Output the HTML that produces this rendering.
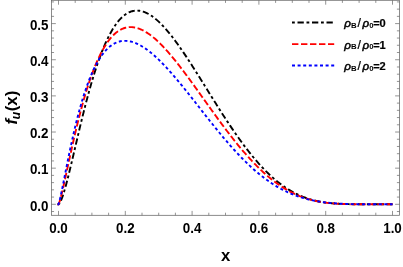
<!DOCTYPE html>
<html><head><meta charset="utf-8"><title>plot</title>
<style>
html,body{margin:0;padding:0;background:#fff;}
svg{display:block;will-change:transform;}
text{font-family:"Liberation Sans",Arial,Helvetica,sans-serif;font-weight:bold;fill:#000;}
.tl{font-size:13.4px;}
.lg{font-size:11.1px;}
.rh{font-style:italic;font-weight:normal;stroke:#000;stroke-width:0.5px;font-size:11.6px;}
.sl{font-weight:normal;font-size:12.3px;stroke:#000;stroke-width:0.25px;}
.eq{stroke:#000;stroke-width:0.2px;}
.ax{font-size:16.7px;}
</style></head><body>
<svg width="403" height="267" viewBox="0 0 403 267">
<rect x="0" y="0" width="403" height="267" fill="#fff"/>
<path d="M57.50,204.30 L58.50,204.30 L59.34,203.62 L60.17,202.28 L61.01,200.53 L61.85,198.45 L62.69,196.11 L63.52,193.55 L64.36,190.81 L65.20,187.91 L66.03,184.88 L66.87,181.73 L67.71,178.49 L68.55,175.17 L69.38,171.78 L70.22,168.34 L71.06,164.85 L71.89,161.33 L72.73,157.78 L73.57,154.21 L74.40,150.64 L75.24,147.06 L76.08,143.48 L76.92,139.91 L77.75,136.36 L78.59,132.82 L79.43,129.30 L80.26,125.81 L81.10,122.35 L81.94,118.92 L82.78,115.53 L83.61,112.18 L84.45,108.87 L85.29,105.60 L86.12,102.37 L86.96,99.20 L87.80,96.07 L88.64,92.99 L89.47,89.97 L90.31,87.00 L91.15,84.08 L91.98,81.22 L92.82,78.41 L93.66,75.66 L94.49,72.97 L95.33,70.34 L96.17,67.77 L97.01,65.26 L97.84,62.80 L98.68,60.41 L99.52,58.07 L100.35,55.80 L101.19,53.59 L102.03,51.43 L102.87,49.34 L103.70,47.31 L104.54,45.33 L105.38,43.42 L106.21,41.57 L107.05,39.77 L107.89,38.04 L108.73,36.36 L109.56,34.74 L110.40,33.18 L111.24,31.68 L112.07,30.23 L112.91,28.84 L113.75,27.51 L114.59,26.23 L115.42,25.01 L116.26,23.84 L117.10,22.73 L117.93,21.67 L118.77,20.66 L119.61,19.70 L120.44,18.80 L121.28,17.95 L122.12,17.15 L122.96,16.39 L123.79,15.69 L124.63,15.03 L125.47,14.43 L126.30,13.87 L127.14,13.35 L127.98,12.89 L128.82,12.47 L129.65,12.09 L130.49,11.75 L131.33,11.46 L132.16,11.22 L133.00,11.01 L133.84,10.85 L134.68,10.72 L135.51,10.64 L136.35,10.59 L137.19,10.59 L138.02,10.62 L138.86,10.69 L139.70,10.79 L140.54,10.94 L141.37,11.11 L142.21,11.32 L143.05,11.57 L143.88,11.85 L144.72,12.16 L145.56,12.51 L146.39,12.88 L147.23,13.29 L148.07,13.73 L148.91,14.19 L149.74,14.69 L150.58,15.21 L151.42,15.77 L152.25,16.34 L153.09,16.95 L153.93,17.58 L154.77,18.24 L155.60,18.93 L156.44,19.63 L157.28,20.37 L158.11,21.12 L158.95,21.90 L159.79,22.70 L160.63,23.52 L161.46,24.36 L162.30,25.23 L163.14,26.11 L163.97,27.01 L164.81,27.94 L165.65,28.88 L166.48,29.84 L167.32,30.82 L168.16,31.81 L169.00,32.82 L169.83,33.85 L170.67,34.89 L171.51,35.95 L172.34,37.03 L173.18,38.11 L174.02,39.22 L174.86,40.33 L175.69,41.46 L176.53,42.60 L177.37,43.75 L178.20,44.92 L179.04,46.10 L179.88,47.28 L180.72,48.48 L181.55,49.69 L182.39,50.91 L183.23,52.13 L184.06,53.37 L184.90,54.62 L185.74,55.87 L186.58,57.13 L187.41,58.40 L188.25,59.67 L189.09,60.96 L189.92,62.24 L190.76,63.54 L191.60,64.84 L192.43,66.15 L193.27,67.46 L194.11,68.77 L194.95,70.09 L195.78,71.42 L196.62,72.74 L197.46,74.08 L198.29,75.41 L199.13,76.75 L199.97,78.09 L200.81,79.43 L201.64,80.77 L202.48,82.12 L203.32,83.46 L204.15,84.81 L204.99,86.16 L205.83,87.51 L206.67,88.86 L207.50,90.20 L208.34,91.55 L209.18,92.90 L210.01,94.25 L210.85,95.59 L211.69,96.94 L212.53,98.28 L213.36,99.62 L214.20,100.96 L215.04,102.29 L215.87,103.62 L216.71,104.95 L217.55,106.28 L218.38,107.60 L219.22,108.92 L220.06,110.24 L220.90,111.55 L221.73,112.86 L222.57,114.16 L223.41,115.46 L224.24,116.75 L225.08,118.04 L225.92,119.32 L226.76,120.60 L227.59,121.87 L228.43,123.14 L229.27,124.40 L230.10,125.65 L230.94,126.90 L231.78,128.14 L232.62,129.37 L233.45,130.60 L234.29,131.82 L235.13,133.03 L235.96,134.23 L236.80,135.43 L237.64,136.61 L238.47,137.79 L239.31,138.97 L240.15,140.13 L240.99,141.28 L241.82,142.43 L242.66,143.57 L243.50,144.70 L244.33,145.82 L245.17,146.93 L246.01,148.03 L246.85,149.12 L247.68,150.20 L248.52,151.27 L249.36,152.33 L250.19,153.38 L251.03,154.43 L251.87,155.46 L252.71,156.48 L253.54,157.49 L254.38,158.49 L255.22,159.48 L256.05,160.46 L256.89,161.43 L257.73,162.38 L258.57,163.33 L259.40,164.26 L260.24,165.19 L261.08,166.10 L261.91,167.00 L262.75,167.89 L263.59,168.77 L264.42,169.64 L265.26,170.49 L266.10,171.33 L266.94,172.17 L267.77,172.99 L268.61,173.79 L269.45,174.59 L270.28,175.38 L271.12,176.15 L271.96,176.91 L272.80,177.66 L273.63,178.39 L274.47,179.12 L275.31,179.83 L276.14,180.53 L276.98,181.22 L277.82,181.90 L278.66,182.56 L279.49,183.22 L280.33,183.86 L281.17,184.49 L282.00,185.11 L282.84,185.71 L283.68,186.30 L284.52,186.89 L285.35,187.46 L286.19,188.01 L287.03,188.56 L287.86,189.09 L288.70,189.62 L289.54,190.13 L290.37,190.63 L291.21,191.12 L292.05,191.59 L292.89,192.06 L293.72,192.51 L294.56,192.96 L295.40,193.39 L296.23,193.81 L297.07,194.22 L297.91,194.62 L298.75,195.01 L299.58,195.39 L300.42,195.76 L301.26,196.11 L302.09,196.46 L302.93,196.80 L303.77,197.12 L304.61,197.44 L305.44,197.75 L306.28,198.05 L307.12,198.34 L307.95,198.61 L308.79,198.88 L309.63,199.15 L310.46,199.40 L311.30,199.64 L312.14,199.87 L312.98,200.10 L313.81,200.32 L314.65,200.53 L315.49,200.73 L316.32,200.92 L317.16,201.11 L318.00,201.29 L318.84,201.46 L319.67,201.62 L320.51,201.78 L321.35,201.93 L322.18,202.07 L323.02,202.21 L323.86,202.34 L324.70,202.47 L325.53,202.58 L326.37,202.70 L327.21,202.80 L328.04,202.91 L328.88,203.00 L329.72,203.09 L330.56,203.18 L331.39,203.26 L332.23,203.34 L333.07,203.41 L333.90,203.48 L334.74,203.54 L335.58,203.60 L336.41,203.66 L337.25,203.71 L338.09,203.76 L338.93,203.81 L339.76,203.85 L340.60,203.89 L341.44,203.93 L342.27,203.96 L343.11,204.00 L343.95,204.03 L344.79,204.05 L345.62,204.08 L346.46,204.10 L347.30,204.12 L348.13,204.14 L348.97,204.16 L349.81,204.18 L350.65,204.19 L351.48,204.20 L352.32,204.21 L353.16,204.23 L353.99,204.23 L354.83,204.24 L355.67,204.25 L356.51,204.26 L357.34,204.26 L358.18,204.27 L359.02,204.27 L359.85,204.28 L360.69,204.28 L361.53,204.28 L362.36,204.29 L363.20,204.29 L364.04,204.29 L364.88,204.29 L365.71,204.29 L366.55,204.30 L367.39,204.30 L368.22,204.30 L369.06,204.30 L369.90,204.30 L370.74,204.30 L371.57,204.30 L372.41,204.30 L373.25,204.30 L374.08,204.30 L374.92,204.30 L375.76,204.30 L376.60,204.30 L377.43,204.30 L378.27,204.30 L379.11,204.30 L379.94,204.30 L380.78,204.30 L381.62,204.30 L382.45,204.30 L383.29,204.30 L384.13,204.30 L384.97,204.30 L385.80,204.30 L386.64,204.30 L387.48,204.30 L388.31,204.30 L389.15,204.30 L389.99,204.30 L390.83,204.30 L391.66,204.30 L392.50,204.30" fill="none" stroke="#000" stroke-width="1.9" stroke-dasharray="2.8 2.7 6.3 2.7"/>
<path d="M57.50,204.30 L58.50,204.30 L59.34,202.39 L60.17,199.66 L61.01,196.54 L61.85,193.17 L62.69,189.64 L63.52,185.98 L64.36,182.24 L65.20,178.44 L66.03,174.60 L66.87,170.74 L67.71,166.87 L68.55,163.01 L69.38,159.15 L70.22,155.32 L71.06,151.52 L71.89,147.74 L72.73,144.01 L73.57,140.32 L74.40,136.67 L75.24,133.08 L76.08,129.54 L76.92,126.05 L77.75,122.62 L78.59,119.25 L79.43,115.95 L80.26,112.70 L81.10,109.52 L81.94,106.40 L82.78,103.34 L83.61,100.35 L84.45,97.43 L85.29,94.57 L86.12,91.78 L86.96,89.06 L87.80,86.40 L88.64,83.81 L89.47,81.29 L90.31,78.83 L91.15,76.44 L91.98,74.11 L92.82,71.85 L93.66,69.65 L94.49,67.52 L95.33,65.45 L96.17,63.45 L97.01,61.50 L97.84,59.62 L98.68,57.80 L99.52,56.04 L100.35,54.35 L101.19,52.71 L102.03,51.13 L102.87,49.61 L103.70,48.14 L104.54,46.73 L105.38,45.38 L106.21,44.08 L107.05,42.84 L107.89,41.65 L108.73,40.52 L109.56,39.43 L110.40,38.40 L111.24,37.42 L112.07,36.49 L112.91,35.60 L113.75,34.77 L114.59,33.98 L115.42,33.24 L116.26,32.55 L117.10,31.90 L117.93,31.29 L118.77,30.73 L119.61,30.22 L120.44,29.74 L121.28,29.31 L122.12,28.91 L122.96,28.56 L123.79,28.25 L124.63,27.98 L125.47,27.74 L126.30,27.54 L127.14,27.38 L127.98,27.25 L128.82,27.16 L129.65,27.11 L130.49,27.09 L131.33,27.10 L132.16,27.14 L133.00,27.22 L133.84,27.33 L134.68,27.47 L135.51,27.64 L136.35,27.84 L137.19,28.07 L138.02,28.32 L138.86,28.61 L139.70,28.92 L140.54,29.26 L141.37,29.62 L142.21,30.01 L143.05,30.43 L143.88,30.87 L144.72,31.33 L145.56,31.82 L146.39,32.33 L147.23,32.87 L148.07,33.42 L148.91,34.00 L149.74,34.60 L150.58,35.22 L151.42,35.85 L152.25,36.51 L153.09,37.19 L153.93,37.89 L154.77,38.60 L155.60,39.33 L156.44,40.08 L157.28,40.85 L158.11,41.63 L158.95,42.43 L159.79,43.24 L160.63,44.07 L161.46,44.92 L162.30,45.77 L163.14,46.65 L163.97,47.53 L164.81,48.43 L165.65,49.34 L166.48,50.27 L167.32,51.21 L168.16,52.16 L169.00,53.12 L169.83,54.09 L170.67,55.07 L171.51,56.06 L172.34,57.06 L173.18,58.08 L174.02,59.10 L174.86,60.13 L175.69,61.17 L176.53,62.22 L177.37,63.27 L178.20,64.34 L179.04,65.41 L179.88,66.49 L180.72,67.57 L181.55,68.67 L182.39,69.76 L183.23,70.87 L184.06,71.98 L184.90,73.09 L185.74,74.22 L186.58,75.34 L187.41,76.47 L188.25,77.61 L189.09,78.75 L189.92,79.89 L190.76,81.04 L191.60,82.19 L192.43,83.34 L193.27,84.50 L194.11,85.66 L194.95,86.82 L195.78,87.98 L196.62,89.15 L197.46,90.32 L198.29,91.49 L199.13,92.66 L199.97,93.83 L200.81,95.00 L201.64,96.18 L202.48,97.35 L203.32,98.52 L204.15,99.70 L204.99,100.87 L205.83,102.04 L206.67,103.22 L207.50,104.39 L208.34,105.56 L209.18,106.73 L210.01,107.90 L210.85,109.07 L211.69,110.23 L212.53,111.39 L213.36,112.55 L214.20,113.71 L215.04,114.87 L215.87,116.02 L216.71,117.17 L217.55,118.32 L218.38,119.47 L219.22,120.61 L220.06,121.74 L220.90,122.88 L221.73,124.01 L222.57,125.13 L223.41,126.26 L224.24,127.37 L225.08,128.49 L225.92,129.59 L226.76,130.70 L227.59,131.80 L228.43,132.89 L229.27,133.98 L230.10,135.06 L230.94,136.14 L231.78,137.21 L232.62,138.27 L233.45,139.33 L234.29,140.39 L235.13,141.43 L235.96,142.47 L236.80,143.51 L237.64,144.53 L238.47,145.56 L239.31,146.57 L240.15,147.58 L240.99,148.57 L241.82,149.57 L242.66,150.55 L243.50,151.53 L244.33,152.50 L245.17,153.46 L246.01,154.41 L246.85,155.36 L247.68,156.30 L248.52,157.23 L249.36,158.15 L250.19,159.06 L251.03,159.97 L251.87,160.86 L252.71,161.75 L253.54,162.63 L254.38,163.50 L255.22,164.36 L256.05,165.21 L256.89,166.06 L257.73,166.89 L258.57,167.72 L259.40,168.53 L260.24,169.34 L261.08,170.13 L261.91,170.92 L262.75,171.70 L263.59,172.47 L264.42,173.22 L265.26,173.97 L266.10,174.71 L266.94,175.44 L267.77,176.16 L268.61,176.87 L269.45,177.57 L270.28,178.26 L271.12,178.94 L271.96,179.61 L272.80,180.26 L273.63,180.91 L274.47,181.55 L275.31,182.18 L276.14,182.80 L276.98,183.41 L277.82,184.01 L278.66,184.59 L279.49,185.17 L280.33,185.74 L281.17,186.30 L282.00,186.84 L282.84,187.38 L283.68,187.91 L284.52,188.42 L285.35,188.93 L286.19,189.43 L287.03,189.91 L287.86,190.39 L288.70,190.86 L289.54,191.31 L290.37,191.76 L291.21,192.20 L292.05,192.62 L292.89,193.04 L293.72,193.45 L294.56,193.85 L295.40,194.24 L296.23,194.61 L297.07,194.98 L297.91,195.34 L298.75,195.69 L299.58,196.04 L300.42,196.37 L301.26,196.69 L302.09,197.01 L302.93,197.31 L303.77,197.61 L304.61,197.90 L305.44,198.18 L306.28,198.45 L307.12,198.71 L307.95,198.97 L308.79,199.21 L309.63,199.45 L310.46,199.68 L311.30,199.91 L312.14,200.12 L312.98,200.33 L313.81,200.53 L314.65,200.72 L315.49,200.91 L316.32,201.09 L317.16,201.26 L318.00,201.43 L318.84,201.58 L319.67,201.74 L320.51,201.88 L321.35,202.02 L322.18,202.16 L323.02,202.29 L323.86,202.41 L324.70,202.53 L325.53,202.64 L326.37,202.74 L327.21,202.84 L328.04,202.94 L328.88,203.03 L329.72,203.12 L330.56,203.20 L331.39,203.28 L332.23,203.35 L333.07,203.42 L333.90,203.49 L334.74,203.55 L335.58,203.61 L336.41,203.66 L337.25,203.71 L338.09,203.76 L338.93,203.81 L339.76,203.85 L340.60,203.89 L341.44,203.93 L342.27,203.96 L343.11,203.99 L343.95,204.02 L344.79,204.05 L345.62,204.07 L346.46,204.09 L347.30,204.12 L348.13,204.14 L348.97,204.15 L349.81,204.17 L350.65,204.18 L351.48,204.20 L352.32,204.21 L353.16,204.22 L353.99,204.23 L354.83,204.24 L355.67,204.25 L356.51,204.25 L357.34,204.26 L358.18,204.27 L359.02,204.27 L359.85,204.28 L360.69,204.28 L361.53,204.28 L362.36,204.29 L363.20,204.29 L364.04,204.29 L364.88,204.29 L365.71,204.29 L366.55,204.29 L367.39,204.30 L368.22,204.30 L369.06,204.30 L369.90,204.30 L370.74,204.30 L371.57,204.30 L372.41,204.30 L373.25,204.30 L374.08,204.30 L374.92,204.30 L375.76,204.30 L376.60,204.30 L377.43,204.30 L378.27,204.30 L379.11,204.30 L379.94,204.30 L380.78,204.30 L381.62,204.30 L382.45,204.30 L383.29,204.30 L384.13,204.30 L384.97,204.30 L385.80,204.30 L386.64,204.30 L387.48,204.30 L388.31,204.30 L389.15,204.30 L389.99,204.30 L390.83,204.30 L391.66,204.30 L392.50,204.30" fill="none" stroke="#f00" stroke-width="1.9" stroke-dasharray="6.4 2.6"/>
<path d="M57.50,204.30 L58.50,204.30 L59.34,201.71 L60.17,198.24 L61.01,194.43 L61.85,190.41 L62.69,186.27 L63.52,182.07 L64.36,177.83 L65.20,173.59 L66.03,169.36 L66.87,165.16 L67.71,161.01 L68.55,156.90 L69.38,152.85 L70.22,148.86 L71.06,144.95 L71.89,141.10 L72.73,137.34 L73.57,133.65 L74.40,130.04 L75.24,126.51 L76.08,123.07 L76.92,119.71 L77.75,116.43 L78.59,113.24 L79.43,110.13 L80.26,107.11 L81.10,104.17 L81.94,101.31 L82.78,98.54 L83.61,95.84 L84.45,93.23 L85.29,90.70 L86.12,88.24 L86.96,85.86 L87.80,83.56 L88.64,81.34 L89.47,79.19 L90.31,77.11 L91.15,75.10 L91.98,73.17 L92.82,71.31 L93.66,69.51 L94.49,67.78 L95.33,66.12 L96.17,64.52 L97.01,62.98 L97.84,61.51 L98.68,60.10 L99.52,58.75 L100.35,57.45 L101.19,56.22 L102.03,55.04 L102.87,53.92 L103.70,52.85 L104.54,51.83 L105.38,50.87 L106.21,49.96 L107.05,49.09 L107.89,48.28 L108.73,47.51 L109.56,46.79 L110.40,46.12 L111.24,45.49 L112.07,44.91 L112.91,44.37 L113.75,43.87 L114.59,43.41 L115.42,42.99 L116.26,42.62 L117.10,42.28 L117.93,41.98 L118.77,41.71 L119.61,41.48 L120.44,41.29 L121.28,41.13 L122.12,41.01 L122.96,40.92 L123.79,40.86 L124.63,40.83 L125.47,40.83 L126.30,40.87 L127.14,40.93 L127.98,41.02 L128.82,41.14 L129.65,41.29 L130.49,41.47 L131.33,41.67 L132.16,41.90 L133.00,42.15 L133.84,42.43 L134.68,42.74 L135.51,43.06 L136.35,43.41 L137.19,43.79 L138.02,44.18 L138.86,44.60 L139.70,45.03 L140.54,45.49 L141.37,45.97 L142.21,46.47 L143.05,46.98 L143.88,47.52 L144.72,48.07 L145.56,48.65 L146.39,49.24 L147.23,49.84 L148.07,50.47 L148.91,51.11 L149.74,51.76 L150.58,52.43 L151.42,53.12 L152.25,53.82 L153.09,54.53 L153.93,55.26 L154.77,56.01 L155.60,56.76 L156.44,57.53 L157.28,58.31 L158.11,59.11 L158.95,59.92 L159.79,60.73 L160.63,61.56 L161.46,62.40 L162.30,63.25 L163.14,64.11 L163.97,64.99 L164.81,65.87 L165.65,66.76 L166.48,67.66 L167.32,68.57 L168.16,69.49 L169.00,70.41 L169.83,71.35 L170.67,72.29 L171.51,73.24 L172.34,74.20 L173.18,75.16 L174.02,76.13 L174.86,77.11 L175.69,78.09 L176.53,79.08 L177.37,80.08 L178.20,81.08 L179.04,82.09 L179.88,83.10 L180.72,84.11 L181.55,85.14 L182.39,86.16 L183.23,87.19 L184.06,88.23 L184.90,89.26 L185.74,90.30 L186.58,91.35 L187.41,92.40 L188.25,93.45 L189.09,94.50 L189.92,95.55 L190.76,96.61 L191.60,97.67 L192.43,98.73 L193.27,99.80 L194.11,100.86 L194.95,101.93 L195.78,102.99 L196.62,104.06 L197.46,105.13 L198.29,106.20 L199.13,107.26 L199.97,108.33 L200.81,109.40 L201.64,110.47 L202.48,111.54 L203.32,112.60 L204.15,113.67 L204.99,114.73 L205.83,115.80 L206.67,116.86 L207.50,117.92 L208.34,118.98 L209.18,120.03 L210.01,121.09 L210.85,122.14 L211.69,123.19 L212.53,124.23 L213.36,125.28 L214.20,126.32 L215.04,127.36 L215.87,128.39 L216.71,129.42 L217.55,130.45 L218.38,131.47 L219.22,132.49 L220.06,133.50 L220.90,134.51 L221.73,135.52 L222.57,136.52 L223.41,137.52 L224.24,138.51 L225.08,139.50 L225.92,140.48 L226.76,141.46 L227.59,142.43 L228.43,143.39 L229.27,144.35 L230.10,145.31 L230.94,146.26 L231.78,147.20 L232.62,148.14 L233.45,149.07 L234.29,149.99 L235.13,150.91 L235.96,151.82 L236.80,152.72 L237.64,153.62 L238.47,154.50 L239.31,155.39 L240.15,156.26 L240.99,157.13 L241.82,157.99 L242.66,158.84 L243.50,159.69 L244.33,160.53 L245.17,161.36 L246.01,162.18 L246.85,162.99 L247.68,163.80 L248.52,164.60 L249.36,165.39 L250.19,166.17 L251.03,166.94 L251.87,167.71 L252.71,168.46 L253.54,169.21 L254.38,169.95 L255.22,170.68 L256.05,171.41 L256.89,172.12 L257.73,172.83 L258.57,173.52 L259.40,174.21 L260.24,174.89 L261.08,175.56 L261.91,176.22 L262.75,176.87 L263.59,177.52 L264.42,178.15 L265.26,178.78 L266.10,179.39 L266.94,180.00 L267.77,180.60 L268.61,181.19 L269.45,181.77 L270.28,182.34 L271.12,182.90 L271.96,183.46 L272.80,184.00 L273.63,184.54 L274.47,185.06 L275.31,185.58 L276.14,186.09 L276.98,186.59 L277.82,187.08 L278.66,187.56 L279.49,188.04 L280.33,188.50 L281.17,188.96 L282.00,189.40 L282.84,189.84 L283.68,190.27 L284.52,190.69 L285.35,191.11 L286.19,191.51 L287.03,191.91 L287.86,192.29 L288.70,192.67 L289.54,193.05 L290.37,193.41 L291.21,193.76 L292.05,194.11 L292.89,194.45 L293.72,194.78 L294.56,195.11 L295.40,195.42 L296.23,195.73 L297.07,196.03 L297.91,196.32 L298.75,196.61 L299.58,196.89 L300.42,197.16 L301.26,197.42 L302.09,197.68 L302.93,197.93 L303.77,198.18 L304.61,198.41 L305.44,198.64 L306.28,198.87 L307.12,199.08 L307.95,199.30 L308.79,199.50 L309.63,199.70 L310.46,199.89 L311.30,200.08 L312.14,200.26 L312.98,200.43 L313.81,200.60 L314.65,200.77 L315.49,200.93 L316.32,201.08 L317.16,201.23 L318.00,201.37 L318.84,201.51 L319.67,201.64 L320.51,201.77 L321.35,201.89 L322.18,202.01 L323.02,202.13 L323.86,202.24 L324.70,202.34 L325.53,202.44 L326.37,202.54 L327.21,202.64 L328.04,202.73 L328.88,202.81 L329.72,202.89 L330.56,202.97 L331.39,203.05 L332.23,203.12 L333.07,203.19 L333.90,203.26 L334.74,203.32 L335.58,203.38 L336.41,203.44 L337.25,203.49 L338.09,203.54 L338.93,203.59 L339.76,203.64 L340.60,203.68 L341.44,203.73 L342.27,203.77 L343.11,203.80 L343.95,203.84 L344.79,203.87 L345.62,203.90 L346.46,203.93 L347.30,203.96 L348.13,203.99 L348.97,204.01 L349.81,204.04 L350.65,204.06 L351.48,204.08 L352.32,204.10 L353.16,204.11 L353.99,204.13 L354.83,204.15 L355.67,204.16 L356.51,204.17 L357.34,204.19 L358.18,204.20 L359.02,204.21 L359.85,204.22 L360.69,204.23 L361.53,204.23 L362.36,204.24 L363.20,204.25 L364.04,204.25 L364.88,204.26 L365.71,204.26 L366.55,204.27 L367.39,204.27 L368.22,204.28 L369.06,204.28 L369.90,204.28 L370.74,204.29 L371.57,204.29 L372.41,204.29 L373.25,204.29 L374.08,204.29 L374.92,204.29 L375.76,204.30 L376.60,204.30 L377.43,204.30 L378.27,204.30 L379.11,204.30 L379.94,204.30 L380.78,204.30 L381.62,204.30 L382.45,204.30 L383.29,204.30 L384.13,204.30 L384.97,204.30 L385.80,204.30 L386.64,204.30 L387.48,204.30 L388.31,204.30 L389.15,204.30 L389.99,204.30 L390.83,204.30 L391.66,204.30 L392.50,204.30" fill="none" stroke="#00f" stroke-width="1.9" stroke-dasharray="3 2.6"/>
<rect x="51.45" y="0.3" width="348.05" height="215.0" fill="none" stroke="#666" stroke-width="0.75"/>
<path d="M58.50,215.30 v-4.40 M58.50,0.30 v4.40 M75.20,215.30 v-2.60 M75.20,0.30 v2.60 M91.90,215.30 v-2.60 M91.90,0.30 v2.60 M108.60,215.30 v-2.60 M108.60,0.30 v2.60 M125.30,215.30 v-4.40 M125.30,0.30 v4.40 M142.00,215.30 v-2.60 M142.00,0.30 v2.60 M158.70,215.30 v-2.60 M158.70,0.30 v2.60 M175.40,215.30 v-2.60 M175.40,0.30 v2.60 M192.10,215.30 v-4.40 M192.10,0.30 v4.40 M208.80,215.30 v-2.60 M208.80,0.30 v2.60 M225.50,215.30 v-2.60 M225.50,0.30 v2.60 M242.20,215.30 v-2.60 M242.20,0.30 v2.60 M258.90,215.30 v-4.40 M258.90,0.30 v4.40 M275.60,215.30 v-2.60 M275.60,0.30 v2.60 M292.30,215.30 v-2.60 M292.30,0.30 v2.60 M309.00,215.30 v-2.60 M309.00,0.30 v2.60 M325.70,215.30 v-4.40 M325.70,0.30 v4.40 M342.40,215.30 v-2.60 M342.40,0.30 v2.60 M359.10,215.30 v-2.60 M359.10,0.30 v2.60 M375.80,215.30 v-2.60 M375.80,0.30 v2.60 M392.50,215.30 v-4.40 M392.50,0.30 v4.40 M51.45,211.53 h2.60 M399.50,211.53 h-2.60 M51.45,204.30 h4.40 M399.50,204.30 h-4.40 M51.45,197.07 h2.60 M399.50,197.07 h-2.60 M51.45,189.84 h2.60 M399.50,189.84 h-2.60 M51.45,182.62 h2.60 M399.50,182.62 h-2.60 M51.45,175.39 h2.60 M399.50,175.39 h-2.60 M51.45,168.16 h4.40 M399.50,168.16 h-4.40 M51.45,160.93 h2.60 M399.50,160.93 h-2.60 M51.45,153.70 h2.60 M399.50,153.70 h-2.60 M51.45,146.48 h2.60 M399.50,146.48 h-2.60 M51.45,139.25 h2.60 M399.50,139.25 h-2.60 M51.45,132.02 h4.40 M399.50,132.02 h-4.40 M51.45,124.79 h2.60 M399.50,124.79 h-2.60 M51.45,117.56 h2.60 M399.50,117.56 h-2.60 M51.45,110.34 h2.60 M399.50,110.34 h-2.60 M51.45,103.11 h2.60 M399.50,103.11 h-2.60 M51.45,95.88 h4.40 M399.50,95.88 h-4.40 M51.45,88.65 h2.60 M399.50,88.65 h-2.60 M51.45,81.42 h2.60 M399.50,81.42 h-2.60 M51.45,74.20 h2.60 M399.50,74.20 h-2.60 M51.45,66.97 h2.60 M399.50,66.97 h-2.60 M51.45,59.74 h4.40 M399.50,59.74 h-4.40 M51.45,52.51 h2.60 M399.50,52.51 h-2.60 M51.45,45.28 h2.60 M399.50,45.28 h-2.60 M51.45,38.06 h2.60 M399.50,38.06 h-2.60 M51.45,30.83 h2.60 M399.50,30.83 h-2.60 M51.45,23.60 h4.40 M399.50,23.60 h-4.40 M51.45,16.37 h2.60 M399.50,16.37 h-2.60 M51.45,9.14 h2.60 M399.50,9.14 h-2.60 M51.45,1.92 h2.60 M399.50,1.92 h-2.60" fill="none" stroke="#666" stroke-width="0.7"/>
<text class="tl" transform="translate(58.50,233.3) scale(1,1.07)" text-anchor="middle">0.0</text>
<text class="tl" transform="translate(125.30,233.3) scale(1,1.07)" text-anchor="middle">0.2</text>
<text class="tl" transform="translate(192.10,233.3) scale(1,1.07)" text-anchor="middle">0.4</text>
<text class="tl" transform="translate(258.90,233.3) scale(1,1.07)" text-anchor="middle">0.6</text>
<text class="tl" transform="translate(325.70,233.3) scale(1,1.07)" text-anchor="middle">0.8</text>
<text class="tl" transform="translate(392.50,233.3) scale(1,1.07)" text-anchor="middle">1.0</text>
<text class="tl" transform="translate(48.5,210.60) scale(1,1.07)" text-anchor="end">0.0</text>
<text class="tl" transform="translate(48.5,174.46) scale(1,1.07)" text-anchor="end">0.1</text>
<text class="tl" transform="translate(48.5,138.32) scale(1,1.07)" text-anchor="end">0.2</text>
<text class="tl" transform="translate(48.5,102.18) scale(1,1.07)" text-anchor="end">0.3</text>
<text class="tl" transform="translate(48.5,66.04) scale(1,1.07)" text-anchor="end">0.4</text>
<text class="tl" transform="translate(48.5,29.90) scale(1,1.07)" text-anchor="end">0.5</text>
<text class="ax" transform="translate(225.7,260.7) scale(1,0.98)" text-anchor="middle">x</text>
<text class="ax" transform="translate(17.2,107.5) rotate(-90) scale(1,1.03)" text-anchor="middle"><tspan font-style="italic">f</tspan><tspan font-style="italic" font-size="12.5px" dy="3.2" dx="-0.6">u</tspan><tspan dy="-3.2" dx="0.5">(x</tspan><tspan dx="0.3">)</tspan></text>
<path d="M292,22.5 H334.2" fill="none" stroke="#000" stroke-width="1.9" stroke-dasharray="2.8 2.7 6.3 2.7"/>
<text class="lg" transform="translate(344.3,27.00) scale(1,0.98)"><tspan class="rh">ρ</tspan><tspan font-size="7.8px" dy="0.9">B</tspan><tspan class="sl" dy="-0.9" dx="1.0">/</tspan><tspan class="rh" dx="1.5">ρ</tspan><tspan font-size="7.8px" dy="0.9">0</tspan><tspan dy="-0.9" dx="-0.3" class="eq">=</tspan><tspan dx="-0.1" class="eq">0</tspan></text>
<path d="M292,44.1 H334.2" fill="none" stroke="#f00" stroke-width="1.9" stroke-dasharray="6.4 2.6"/>
<text class="lg" transform="translate(344.3,48.60) scale(1,0.98)"><tspan class="rh">ρ</tspan><tspan font-size="7.8px" dy="0.9">B</tspan><tspan class="sl" dy="-0.9" dx="1.0">/</tspan><tspan class="rh" dx="1.5">ρ</tspan><tspan font-size="7.8px" dy="0.9">0</tspan><tspan dy="-0.9" dx="-0.3" class="eq">=</tspan><tspan dx="-0.1" class="eq">1</tspan></text>
<path d="M292,65.5 H334.2" fill="none" stroke="#00f" stroke-width="1.9" stroke-dasharray="3 2.6"/>
<text class="lg" transform="translate(344.3,69.95) scale(1,0.98)"><tspan class="rh">ρ</tspan><tspan font-size="7.8px" dy="0.9">B</tspan><tspan class="sl" dy="-0.9" dx="1.0">/</tspan><tspan class="rh" dx="1.5">ρ</tspan><tspan font-size="7.8px" dy="0.9">0</tspan><tspan dy="-0.9" dx="-0.3" class="eq">=</tspan><tspan dx="-0.1" class="eq">2</tspan></text>
</svg></body></html>
